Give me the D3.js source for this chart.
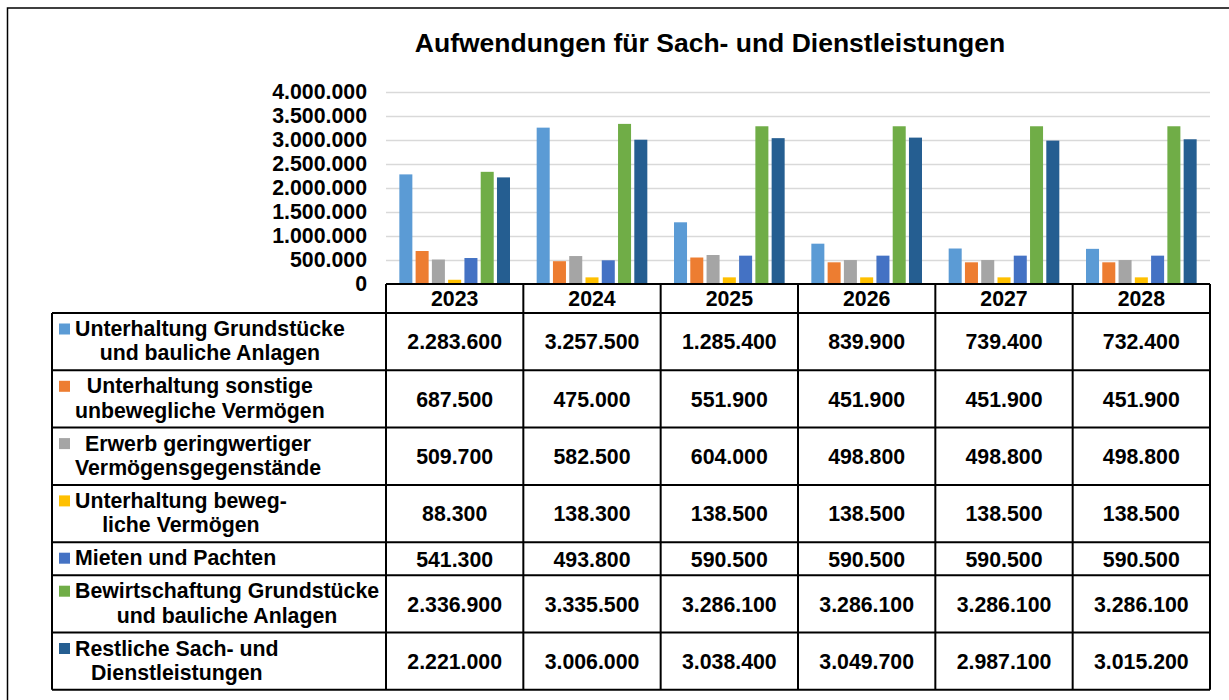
<!DOCTYPE html>
<html>
<head>
<meta charset="utf-8">
<script src="https://cdn.jsdelivr.net/npm/d3@7"></script>
<style>
  body { margin: 0; background: #fff; }
  text { font-family: "Liberation Sans", Arial, sans-serif; font-weight: bold; fill: #000; }
</style>
</head>
<body>
<div id="chart"></div>
<script>
// categories
const years = ["2023", "2024", "2025", "2026", "2027", "2028"];

// series labels (as wrapped in the data table)
const seriesLabels = [
    ["Unterhaltung Grundstücke", "und bauliche Anlagen"],
    ["Unterhaltung sonstige", "unbewegliche Vermögen"],
    ["Erwerb geringwertiger", "Vermögensgegenstände"],
    ["Unterhaltung beweg-", "liche Vermögen"],
    ["Mieten und Pachten"],
    ["Bewirtschaftung Grundstücke", "und bauliche Anlagen"],
    ["Restliche Sach- und", "Dienstleistungen"]
];
const seriesColors = ["#5B9BD5", "#ED7D31", "#A5A5A5", "#FFC000", "#4472C4", "#70AD47", "#255E91"];

// values per series
const grundstuecke   = [2283600, 3257500, 1285400, 839900, 739400, 732400];
const sonstige       = [687500, 475000, 551900, 451900, 451900, 451900];
const geringwertig   = [509700, 582500, 604000, 498800, 498800, 498800];
const beweglich      = [88300, 138300, 138500, 138500, 138500, 138500];
const mieten         = [541300, 493800, 590500, 590500, 590500, 590500];
const bewirtschaft   = [2336900, 3335500, 3286100, 3286100, 3286100, 3286100];
const restliche      = [2221000, 3006000, 3038400, 3049700, 2987100, 3015200];
const seriesValues = [grundstuecke, sonstige, geringwertig, beweglich, mieten, bewirtschaft, restliche];

const yTicks = [0, 500000, 1000000, 1500000, 2000000, 2500000, 3000000, 3500000, 4000000];

const W = 1229, H = 700;
const plot = { left: 386, right: 1210, top: 92, bottom: 284 };
const table = { left: 52, headerH: 29, twoLineH: 57.3, oneLineH: 33 };
const fontSize = "21.3px";

const de = d3.formatLocale({ decimal: ",", thousands: ".", grouping: [3], currency: ["", " €"] });
const fmt = de.format(",d");

const svg = d3.select("#chart").append("svg")
    .attr("width", W)
    .attr("height", H);

// outer chart border (cut off on right / bottom)
svg.append("rect")
    .attr("x", 7.5).attr("y", 8)
    .attr("width", W + 20).attr("height", H + 20)
    .attr("fill", "none")
    .attr("stroke", "#000")
    .attr("stroke-width", 1.5);

svg.append("text")
    .attr("x", 710)
    .attr("y", 52)
    .attr("text-anchor", "middle")
    .style("font-size", "26.5px")
    .text("Aufwendungen für Sach- und Dienstleistungen");

// scales
const x0 = d3.scaleBand()
    .domain(years)
    .range([plot.left, plot.right]);

const x1 = d3.scaleBand()
    .domain(d3.range(seriesValues.length))
    .range([0, x0.bandwidth()])
    .paddingInner(0.2)
    .paddingOuter(0.82);

const y = d3.scaleLinear()
    .domain([0, 4000000])
    .range([plot.bottom, plot.top]);

// gridlines
svg.append("g")
    .attr("transform", `translate(${plot.left},0)`)
    .call(d3.axisLeft(y).tickValues(yTicks.slice(1)).tickSize(-(plot.right - plot.left)).tickFormat(""))
    .call(g => g.select(".domain").remove())
    .call(g => g.selectAll("line").attr("stroke", "#D9D9D9").attr("stroke-width", 1.3));

// y axis labels
svg.append("g")
    .attr("transform", `translate(${plot.left},0)`)
    .call(d3.axisLeft(y).tickValues(yTicks).tickSize(0).tickPadding(19).tickFormat(fmt))
    .call(g => g.select(".domain").remove())
    .call(g => g.selectAll("text").style("font-size", fontSize).attr("font-family", null).attr("fill", "#000"));

// bars
const groups = svg.append("g")
    .selectAll("g")
    .data(years)
    .join("g")
    .attr("transform", d => `translate(${x0(d)},0)`);

groups.selectAll("rect")
    .data((d, i) => seriesValues.map((vals, s) => ({ s, v: vals[i] })))
    .join("rect")
    .attr("x", d => x1(d.s))
    .attr("width", x1.bandwidth())
    .attr("y", d => y(d.v))
    .attr("height", d => y(0) - y(d.v))
    .attr("fill", d => seriesColors[d.s]);

// data table
const rowH = seriesLabels.map(l => l.length > 1 ? table.twoLineH : table.oneLineH);
const rowTop = [];
let acc = plot.bottom + table.headerH;
rowH.forEach(h => { rowTop.push(acc); acc += h; });
const tableBottom = acc;

const tbl = svg.append("g");

// header years
tbl.selectAll("text.year")
    .data(years)
    .join("text")
    .attr("class", "year")
    .attr("x", d => x0(d) + x0.bandwidth() / 2)
    .attr("y", plot.bottom + 21.8)
    .attr("text-anchor", "middle")
    .style("font-size", fontSize)
    .text(d => d);

// values
seriesValues.forEach((vals, s) => {
    tbl.append("g")
        .selectAll("text")
        .data(vals)
        .join("text")
        .attr("x", (d, i) => x0(years[i]) + x0.bandwidth() / 2)
        .attr("y", rowTop[s] + rowH[s] / 2 + 7.8)
        .attr("text-anchor", "middle")
        .style("font-size", fontSize)
        .text(d => fmt(d));
});

// legend keys + labels
seriesLabels.forEach((lines, s) => {
    const top = rowTop[s];
    tbl.append("rect")
        .attr("x", 59)
        .attr("y", top + 10.5)
        .attr("width", 11)
        .attr("height", 11)
        .attr("fill", seriesColors[s]);

    const t = tbl.append("text")
        .attr("text-anchor", "middle")
        .style("font-size", fontSize);
    const spans = lines.map((line, k) => t.append("tspan")
        .attr("y", top + 23 + k * 24.3)
        .text(line));
    const maxW = d3.max(spans, sp => sp.node().getComputedTextLength());
    spans.forEach(sp => sp.attr("x", 75 + maxW / 2));
});

// grid lines of the table
const line = (x1p, y1p, x2p, y2p) => tbl.append("line")
    .attr("x1", x1p).attr("y1", y1p).attr("x2", x2p).attr("y2", y2p)
    .attr("stroke", "#000")
    .attr("stroke-width", 2);

line(plot.left, plot.bottom, plot.right, plot.bottom);
line(table.left, plot.bottom + table.headerH, plot.right, plot.bottom + table.headerH);
rowTop.slice(1).forEach(t => line(table.left, t, plot.right, t));
line(table.left, tableBottom, plot.right, tableBottom);
line(table.left, plot.bottom + table.headerH, table.left, tableBottom);
years.forEach(yr => line(x0(yr), plot.bottom, x0(yr), tableBottom));
line(plot.right, plot.bottom, plot.right, tableBottom);
</script>
</body>
</html>
